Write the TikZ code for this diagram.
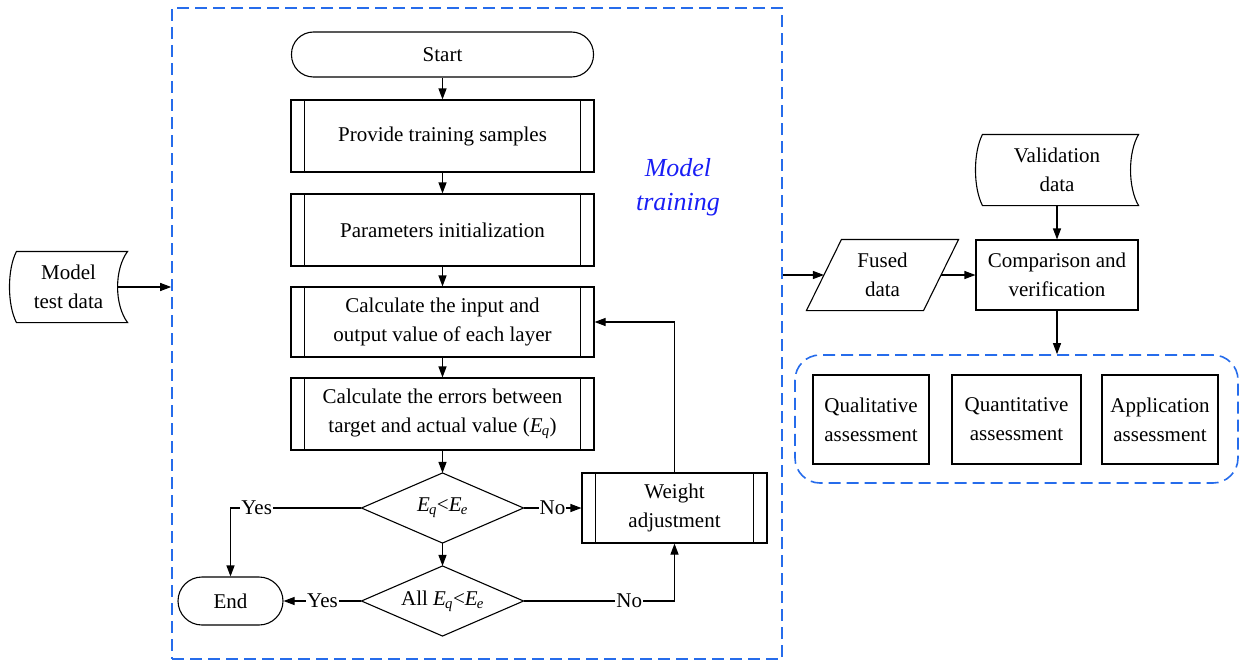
\documentclass[tikz,border=0pt]{standalone}
\usepackage{fontspec}
\setmainfont{Liberation Serif}
\usetikzlibrary{arrows.meta,shapes.geometric,calc}
\definecolor{dblue}{RGB}{38,108,235}
\definecolor{tblue}{RGB}{25,30,245}
\newcommand{\EX}[1]{\textit{E}\kern-0.04em\textsubscript{\textit{#1}}}
\begin{document}
\begin{tikzpicture}[x=1pt,y=-1pt,
  font=\fontsize{21}{29}\selectfont,
  line width=1.1pt,
  >={Triangle[length=11pt,width=8pt]},
  proc/.style={draw, rectangle, minimum width=303pt, minimum height=72pt, align=center, inner sep=0pt},
  term/.style={draw, rectangle, rounded corners=22pt, minimum width=302pt, minimum height=45pt, inner sep=0pt},
  dec/.style={rectangle, minimum width=161pt, minimum height=69pt, inner sep=0pt},
  box/.style={draw, rectangle, align=center, inner sep=0pt},
  ghost/.style={rectangle, align=center, inner sep=0pt},
  lbl/.style={fill=white, inner sep=1pt},
  bluedash/.style={draw=dblue, line width=1.6pt, dash pattern=on 12pt off 6pt}
]
\useasboundingbox (0,0) rectangle (1239,661);

% training frame
\node[bluedash, rectangle, minimum width=610pt, minimum height=651pt] (train) at (477,333.5) {};
\node[font=\fontsize{26}{34}\selectfont\itshape, text=tblue, align=center] (mt) at (678,187) {Model\\training};

% main flow
\node[term] (start) at (442.5,54.5) {Start};
\node[proc] (p1) at (442.5,136) {Provide training samples};
\node[proc] (p2) at (442.5,230) {Parameters initialization};
\node[proc, minimum height=70pt] (p3) at (442.5,322) {Calculate the input and\\output value of each layer};
\node[proc] (p4) at (442.5,414) {Calculate the errors between\\target and actual value (\EX{q})};
\node[dec] (d1) at (442.5,508) {\EX{q}<\EX{e}};
\node[dec] (d2) at (442.5,601) {All \EX{q}<\EX{e}};
\foreach \n in {d1,d2}{
  \draw (\n.north) -- (\n.east) -- (\n.south) -- (\n.west) -- cycle;
}
\node[draw, rectangle, rounded corners=24pt, minimum width=105pt, minimum height=48pt, inner sep=0pt] (end) at (230.5,601) {End};
\node[box, minimum width=185pt, minimum height=70pt] (w) at (674.5,508) {Weight\\adjustment};

\foreach \n in {p1,p2,p3,p4,w}{
  \draw ([xshift=14pt]\n.north west) -- ([xshift=14pt]\n.south west)
        ([xshift=-14pt]\n.north east) -- ([xshift=-14pt]\n.south east);
}

\draw[->] (start) -- (p1);
\draw[->] (p1) -- (p2);
\draw[->] (p2) -- (p3);
\draw[->] (p3) -- (p4);
\draw[->] (p4) -- (d1);
\draw[->] (d1) -- (d2);
\draw[->] (d1.west) -| node[lbl, pos=0.4] {Yes} (end.north);
\draw[->] (d2.west) -- node[lbl] {Yes} (end.east);
\draw[->] (d1.east) -- node[lbl] {No} (w.west);
\draw[->] (d2.east) -| node[lbl, pos=0.35] {No} (w.south);
\draw[->] (w.north) |- (p3.east);

% model test data
\node[ghost, minimum width=117pt, minimum height=70pt] (mtd) at (68.5,287) {Model\\test data};
\draw ($(mtd.north west)+(7,0)$) -- (mtd.north east)
  .. controls ($(mtd.north east)+(-13.3,18)$) and ($(mtd.south east)+(-13.3,-18)$) .. (mtd.south east)
  -- ($(mtd.south west)+(7,0)$)
  .. controls ($(mtd.south west)+(-2.3,-18)$) and ($(mtd.north west)+(-2.3,18)$) .. ($(mtd.north west)+(7,0)$) -- cycle;
\draw[->] ($(mtd.east)+(-10,0)$) -- (train.west |- mtd.east);

% right part
\node[ghost, minimum width=162pt, minimum height=70pt] (val) at (1057,170) {Validation\\data};
\draw ($(val.north west)+(7,0)$) -- (val.north east)
  .. controls ($(val.north east)+(-10.7,18)$) and ($(val.south east)+(-10.7,-18)$) .. (val.south east)
  -- ($(val.south west)+(7,0)$)
  .. controls ($(val.south west)+(-2.3,-18)$) and ($(val.north west)+(-2.3,18)$) .. ($(val.north west)+(7,0)$) -- cycle;
\node[box, minimum width=162pt, minimum height=70pt] (cmp) at (1057,275) {Comparison and\\verification};
\node[ghost, minimum width=151pt, minimum height=70pt] (fd) at (882.5,275) {Fused\\data};
\draw (fd.south west) -- ($(fd.north west)+(35,0)$) -- (fd.north east) -- ($(fd.south east)+(-35,0)$) -- cycle;

\draw[->] (train.east |- fd.west) -- ($(fd.west)+(17.5,0)$);
\draw[->] ($(fd.east)+(-17.5,0)$) -- (cmp.west);
\draw[->] (val.south) -- (cmp.north);

\node[draw=dblue, line width=1.6pt, dash pattern=on 12pt off 6pt, rectangle, rounded corners=25pt, minimum width=443pt, minimum height=128pt] (ass) at (1016.5,419) {};
\draw[->] (cmp.south) -- (cmp.south |- ass.north);
\node[box, minimum width=116pt, minimum height=89pt] (q1) at (871,419.5) {Qualitative\\assessment};
\node[box, minimum width=129pt, minimum height=89pt] (q2) at (1016.5,419.5) {Quantitative\\assessment};
\node[box, minimum width=116pt, minimum height=89pt] (q3) at (1160,419.5) {Application\\assessment};
\end{tikzpicture}
\end{document}
